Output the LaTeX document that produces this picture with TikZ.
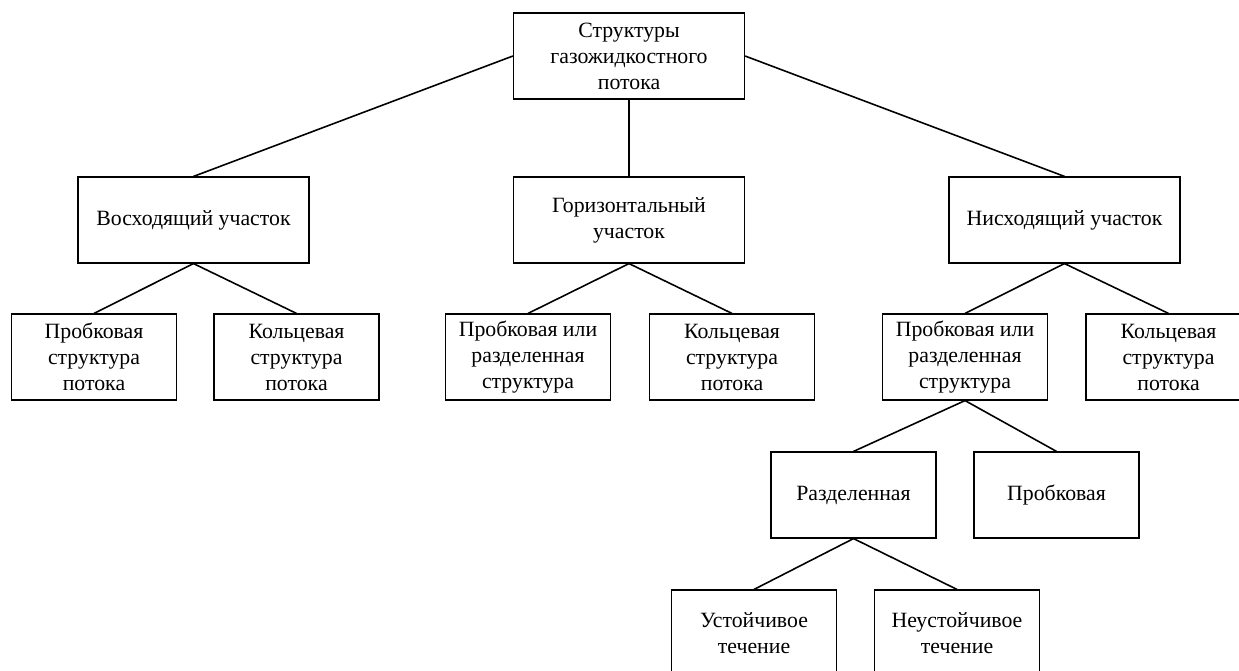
\documentclass[tikz,border=0pt]{standalone}
\usepackage{fontspec}
\setmainfont{Liberation Serif}
\usepackage{tikz}
\usetikzlibrary{positioning}

\tikzset{
  flowbox/.style={draw,line width=0.65pt,align=center,inner sep=0pt,
    minimum height=1.72cm,font=\fontsize{12.4}{14.8}\selectfont},
  widebox/.style={flowbox,minimum width=4.62cm},
  narrowbox/.style={flowbox,minimum width=3.3cm},
  link/.style={line width=0.9pt}
}

\begin{document}
\begin{tikzpicture}
  \useasboundingbox (0,0) rectangle (24.78,-13.40);
  % Root
  \node[widebox] (root) at (12.58,-1.12) {Структуры\\газожидкостного\\потока};
  % Sections of the pipe
  \node[widebox] (up) at (3.87,-4.40) {Восходящий участок};
  \node[widebox] (hor) at (12.58,-4.40) {Горизонтальный\\участок};
  \node[widebox] (down) at (21.29,-4.40) {Нисходящий участок};
  % Flow structures
  \node[narrowbox] (upslug) at (1.88,-7.14) {Пробковая\\структура\\потока};
  \node[narrowbox] (upring) at (5.93,-7.14) {Кольцевая\\структура\\потока};
  \node[narrowbox] (horslug) at (10.56,-7.14) {Пробковая или\\разделенная\\структура};
  \node[narrowbox] (horring) at (14.64,-7.14) {Кольцевая\\структура\\потока};
  \node[narrowbox] (downslug) at (19.30,-7.14) {Пробковая или\\разделенная\\структура};
  \node[narrowbox] (downring) at (23.37,-7.14) {Кольцевая\\структура\\потока};
  % Split of the downward slug/separated structure
  \node[narrowbox] (sep) at (17.07,-9.90) {Разделенная};
  \node[narrowbox] (slug) at (21.13,-9.90) {Пробковая};
  % Separated flow kinds
  \node[narrowbox] (stable) at (15.08,-12.66) {Устойчивое\\течение};
  \node[narrowbox] (unstable) at (19.14,-12.66) {Неустойчивое\\течение};
  % Connectors
  \draw[link] (root.west) -- (up.north);
  \draw[link] (root.south) -- (hor.north);
  \draw[link] (root.east) -- (down.north);
  \draw[link] (up.south) -- (upslug.north);
  \draw[link] (up.south) -- (upring.north);
  \draw[link] (hor.south) -- (horslug.north);
  \draw[link] (hor.south) -- (horring.north);
  \draw[link] (down.south) -- (downslug.north);
  \draw[link] (down.south) -- (downring.north);
  \draw[link] (downslug.south) -- (sep.north);
  \draw[link] (downslug.south) -- (slug.north);
  \draw[link] (sep.south) -- (stable.north);
  \draw[link] (sep.south) -- (unstable.north);
\end{tikzpicture}
\end{document}
